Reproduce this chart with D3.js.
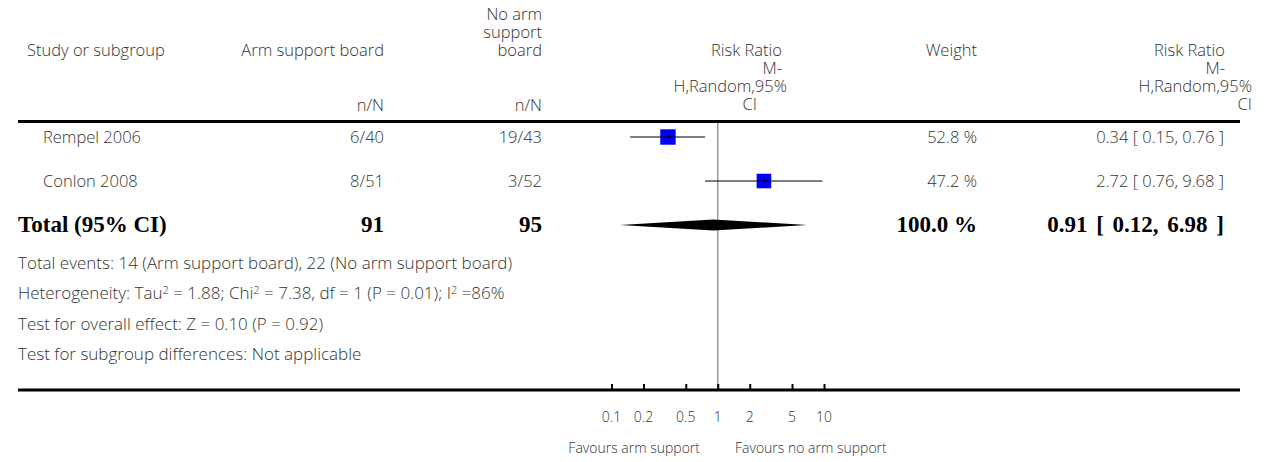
<!DOCTYPE html>
<html lang="en">
<head>
    <meta charset="UTF-8">
    <title>Forest plot</title>
    <script src="https://cdn.jsdelivr.net/npm/d3@7/dist/d3.min.js"></script>
    <style>
        body { margin: 0; background: #fff; }
        text { font-family: "Open Sans", Lato, sans-serif; font-weight: 300; fill: #333; }
        .bold { font-family: "Liberation Serif", serif; font-weight: bold; fill: #000; }
    </style>
</head>
<body>
    <svg width="1268" height="462" id="mainsvg"></svg>
    <script>
        // data
        const studies = ['Rempel 2006', 'Conlon 2008'];
        const armEvents = [6, 8];
        const armTotal = [40, 51];
        const noArmEvents = [19, 3];
        const noArmTotal = [43, 52];
        const ratio = [0.34, 2.72];
        const ciLow = [0.15, 0.76];
        const ciHigh = [0.76, 9.68];
        const weights = [52.8, 47.2];

        const pooled = { label: 'Total (95% CI)', arm: 91, noArm: 95, weight: '100.0 %', rr: 0.91, lo: 0.12, hi: 6.98 };
        const axisTicks = [0.1, 0.2, 0.5, 1, 2, 5, 10];
        const footnotes = [
            'Total events: 14 (Arm support board), 22 (No arm support board)',
            'Heterogeneity: Tau<sup>2</sup> = 1.88; Chi<sup>2</sup> = 7.38, df = 1 (P = 0.01); I<sup>2</sup> =86%',
            'Test for overall effect: Z = 0.10 (P = 0.92)',
            'Test for subgroup differences: Not applicable'
        ];

        const svg = d3.select('#mainsvg');
        const g = svg.append('g');

        const x = d3.scaleLog().domain([0.1, 10]).range([611.5, 824]);
        const y = d3.scalePoint().domain(d3.range(3)).range([137, 225]);
        const fy = d3.scalePoint().domain(d3.range(footnotes.length)).range([263, 354]);
        const boxSize = d3.scaleSqrt().domain([0, 50]).range([0, 15]);

        const fmt = d3.format('.2f');
        const fs = 16.5;

        // header
        const hdr = g.append('g').attr('font-size', fs);
        hdr.append('text').attr('x', 27).attr('y', 50).attr('dy', '0.35em').text('Study or subgroup');
        hdr.append('text').attr('x', 384).attr('y', 50).attr('dy', '0.35em').attr('text-anchor', 'end').text('Arm support board');
        ['No arm', 'support', 'board'].forEach((t, i) => {
            hdr.append('text').attr('x', 542).attr('y', 14 + i * 18).attr('dy', '0.35em').attr('text-anchor', 'end').text(t);
        });
        hdr.append('text').attr('x', 384).attr('y', 105).attr('dy', '0.35em').attr('text-anchor', 'end').text('n/N');
        hdr.append('text').attr('x', 542).attr('y', 105).attr('dy', '0.35em').attr('text-anchor', 'end').text('n/N');
        hdr.append('text').attr('x', 977).attr('y', 50).attr('dy', '0.35em').attr('text-anchor', 'end').text('Weight');

        const rrHead = ['Risk Ratio', 'M-', 'H,Random,95%', 'CI'];
        const midEnds = [782, 782, 787, 757];
        const rightEnds = [1225, 1225, 1252, 1252];
        rrHead.forEach((t, i) => {
            hdr.append('text').attr('x', midEnds[i]).attr('y', 50 + i * 18).attr('dy', '0.35em').attr('text-anchor', 'end').text(t);
            hdr.append('text').attr('x', rightEnds[i]).attr('y', 50 + i * 18).attr('dy', '0.35em').attr('text-anchor', 'end').text(t);
        });

        // rules
        g.append('line').attr('x1', 18).attr('x2', 1240).attr('y1', 121.5).attr('y2', 121.5)
            .attr('stroke', '#000').attr('stroke-width', 3);
        g.append('line').attr('x1', x(1)).attr('x2', x(1)).attr('y1', 123).attr('y2', 390)
            .attr('stroke', '#999').attr('stroke-width', 1.5);

        // study rows
        const rows = g.selectAll('g.row').data(studies).join('g').attr('class', 'row')
            .attr('font-size', fs);
        rows.append('text').attr('x', 43).attr('y', (d, i) => y(i)).attr('dy', '0.35em').text(d => d);
        rows.append('text').attr('x', 384).attr('y', (d, i) => y(i)).attr('dy', '0.35em').attr('text-anchor', 'end')
            .text((d, i) => armEvents[i] + '/' + armTotal[i]);
        rows.append('text').attr('x', 542).attr('y', (d, i) => y(i)).attr('dy', '0.35em').attr('text-anchor', 'end')
            .text((d, i) => noArmEvents[i] + '/' + noArmTotal[i]);
        rows.append('text').attr('x', 977).attr('y', (d, i) => y(i)).attr('dy', '0.35em').attr('text-anchor', 'end')
            .text((d, i) => weights[i].toFixed(1) + ' %');
        rows.append('text').attr('x', 1224).attr('y', (d, i) => y(i)).attr('dy', '0.35em').attr('text-anchor', 'end')
            .text((d, i) => fmt(ratio[i]) + ' [ ' + fmt(ciLow[i]) + ', ' + fmt(ciHigh[i]) + ' ]');

        rows.append('rect')
            .attr('x', (d, i) => x(ratio[i]) - boxSize(weights[i]) / 2)
            .attr('y', (d, i) => y(i) - boxSize(weights[i]) / 2)
            .attr('width', (d, i) => boxSize(weights[i]))
            .attr('height', (d, i) => boxSize(weights[i]))
            .attr('fill', '#0000ff');
        rows.append('line')
            .attr('x1', (d, i) => x(ciLow[i])).attr('x2', (d, i) => x(ciHigh[i]))
            .attr('y1', (d, i) => y(i)).attr('y2', (d, i) => y(i))
            .attr('stroke', '#000').attr('stroke-width', 1.2);
        rows.append('line')
            .attr('x1', (d, i) => x(ratio[i])).attr('x2', (d, i) => x(ratio[i]))
            .attr('y1', (d, i) => y(i) - 3).attr('y2', (d, i) => y(i) + 3)
            .attr('stroke', '#000').attr('stroke-width', 1);

        // pooled row
        const ty = y(2);
        const tot = g.append('g').attr('font-size', 23);
        tot.append('text').attr('class', 'bold').attr('x', 18).attr('y', ty).attr('dy', '0.32em').text(pooled.label);
        tot.append('text').attr('class', 'bold').attr('x', 384).attr('y', ty).attr('dy', '0.32em').attr('text-anchor', 'end').text(pooled.arm);
        tot.append('text').attr('class', 'bold').attr('x', 542).attr('y', ty).attr('dy', '0.32em').attr('text-anchor', 'end').text(pooled.noArm);
        tot.append('text').attr('class', 'bold').attr('x', 977).attr('y', ty).attr('dy', '0.32em').attr('text-anchor', 'end').text(pooled.weight);
        tot.append('text').attr('class', 'bold').attr('x', 1224).attr('y', ty).attr('dy', '0.32em').attr('text-anchor', 'end')
            .attr('word-spacing', 3)
            .text(fmt(pooled.rr) + ' [ ' + fmt(pooled.lo) + ', ' + fmt(pooled.hi) + ' ]');

        g.append('path')
            .attr('d', `M${x(pooled.lo)},${ty} L${x(pooled.rr)},${ty - 5.5} L${x(pooled.hi)},${ty} L${x(pooled.rr)},${ty + 5.5} Z`)
            .attr('fill', '#000');

        // footnotes
        const fn = g.append('g').attr('font-size', 17);
        footnotes.forEach((t, i) => {
            const txt = fn.append('text').attr('x', 18).attr('y', fy(i)).attr('dy', '0.35em');
            let raised = false;
            t.split(/(<sup>.*?<\/sup>)/).forEach(part => {
                if (!part) return;
                if (part.startsWith('<sup>')) {
                    txt.append('tspan').attr('dy', -5).attr('font-size', 11).text(part.replace(/<\/?sup>/g, ''));
                    raised = true;
                } else {
                    txt.append('tspan').attr('dy', raised ? 5 : null).text(part);
                    raised = false;
                }
            });
        });

        // bottom axis
        g.append('line').attr('x1', 18).attr('x2', 1240).attr('y1', 390).attr('y2', 390)
            .attr('stroke', '#000').attr('stroke-width', 3);
        const axis = d3.axisTop(x).tickValues(axisTicks).tickSize(6).tickFormat('');
        const ax = g.append('g').attr('transform', 'translate(0,390)').call(axis);
        ax.select('.domain').remove();
        ax.selectAll('.tick line').attr('stroke', '#000').attr('stroke-width', 2);

        g.append('g').attr('font-size', 14).selectAll('text').data(axisTicks).join('text')
            .attr('x', d => x(d)).attr('y', 417).attr('dy', '0.35em').attr('text-anchor', 'middle')
            .text(d => d);

        g.append('text').attr('x', 700).attr('y', 448).attr('dy', '0.35em').attr('font-size', 14)
            .attr('text-anchor', 'end').text('Favours arm support');
        g.append('text').attr('x', 735).attr('y', 448).attr('dy', '0.35em').attr('font-size', 14)
            .text('Favours no arm support');
    </script>
</body>
</html>
